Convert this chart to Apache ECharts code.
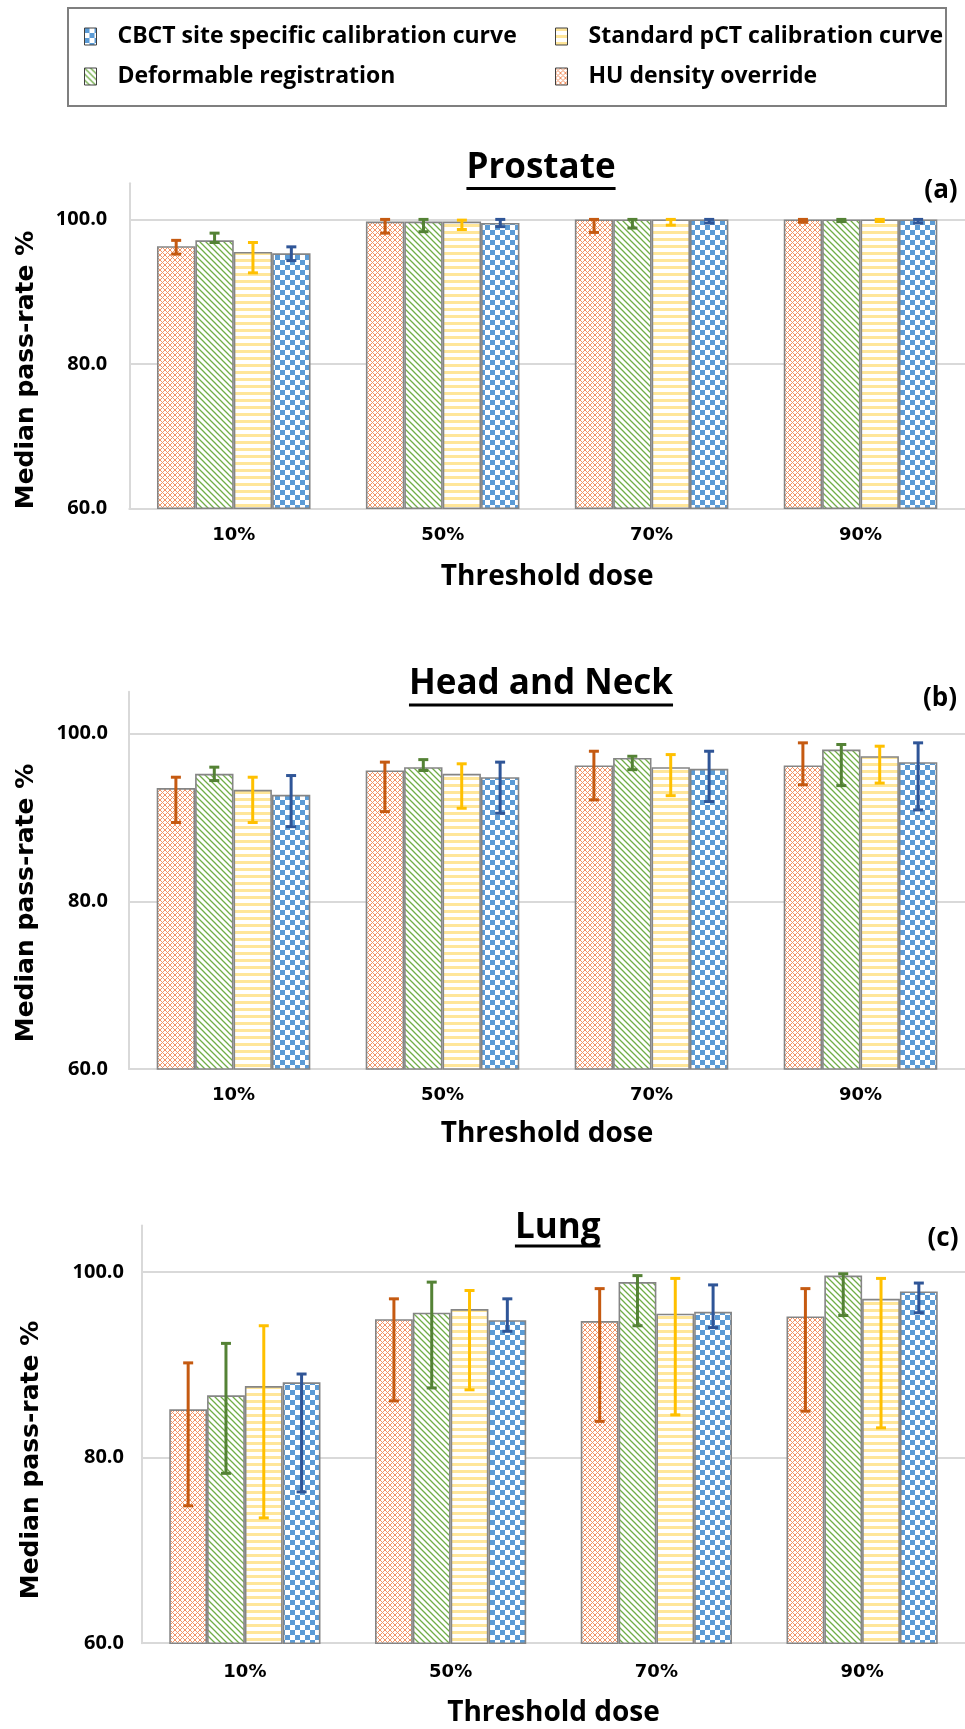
<!DOCTYPE html>
<html><head><meta charset="utf-8">
<script src="https://cdn.jsdelivr.net/npm/echarts@6/dist/echarts.min.js"></script>
<style>html,body{margin:0;padding:0;background:#fff}#c{width:965px;height:1729px}</style>
</head><body><div id="c"></div><script>
// ---------- data ----------
const categories = ['10%', '50%', '70%', '90%'];
const seriesNames = ['HU density override', 'Deformable registration', 'Standard pCT calibration curve', 'CBCT site specific calibration curve'];
const yMin = 60, yMax = 105, yInterval = 20;

// Prostate (a)
const prostateHU = [96.3, 99.7, 100.0, 100.0];
const prostateHULow = [95.2, 98.1, 98.2, 99.6];
const prostateHUHigh = [97.1, 100.0, 100.0, 100.0];
const prostateDef = [97.1, 99.7, 100.0, 100.0];
const prostateDefLow = [96.8, 98.3, 98.8, 99.7];
const prostateDefHigh = [98.1, 100.0, 100.0, 100.0];
const prostateStd = [95.5, 99.7, 100.0, 100.0];
const prostateStdLow = [92.6, 98.6, 99.2, 99.7];
const prostateStdHigh = [96.8, 99.9, 100.0, 100.0];
const prostateCBCT = [95.3, 99.5, 100.0, 100.0];
const prostateCBCTLow = [94.3, 99.0, 99.5, 99.5];
const prostateCBCTHigh = [96.2, 100.0, 100.0, 100.0];

// Head and Neck (b)
const hnHU = [93.5, 95.6, 96.2, 96.2];
const hnHULow = [89.4, 90.7, 92.1, 93.9];
const hnHUHigh = [94.8, 96.6, 97.9, 98.9];
const hnDef = [95.2, 96.0, 97.1, 98.1];
const hnDefLow = [94.4, 95.6, 95.7, 93.8];
const hnDefHigh = [96.0, 96.9, 97.3, 98.7];
const hnStd = [93.3, 95.2, 96.0, 97.3];
const hnStdLow = [89.4, 91.1, 92.6, 94.1];
const hnStdHigh = [94.8, 96.4, 97.5, 98.5];
const hnCBCT = [92.7, 94.8, 95.8, 96.6];
const hnCBCTLow = [88.9, 90.5, 91.9, 90.9];
const hnCBCTHigh = [95.0, 96.6, 97.9, 98.9];

// Lung (c)
const lungHU = [85.2, 94.9, 94.7, 95.2];
const lungHULow = [74.8, 86.1, 83.9, 85.0];
const lungHUHigh = [90.2, 97.1, 98.2, 98.2];
const lungDef = [86.7, 95.6, 98.9, 99.6];
const lungDefLow = [78.3, 87.5, 94.2, 95.3];
const lungDefHigh = [92.3, 98.9, 99.6, 99.8];
const lungStd = [87.7, 96.0, 95.5, 97.1];
const lungStdLow = [73.5, 87.3, 84.6, 83.2];
const lungStdHigh = [94.2, 98.0, 99.3, 99.3];
const lungCBCT = [88.1, 94.8, 95.7, 97.9];
const lungCBCTLow = [76.3, 93.6, 94.0, 95.6];
const lungCBCTHigh = [89.0, 97.1, 98.6, 98.8];

// ---------- layout / style ----------
const CAT_GAP = 0.265;
const panels = [
  { title: 'Prostate', tag: '(a)', values: [prostateHU, prostateDef, prostateStd, prostateCBCT],
    lows: [prostateHULow, prostateDefLow, prostateStdLow, prostateCBCTLow],
    highs: [prostateHUHigh, prostateDefHigh, prostateStdHigh, prostateCBCTHigh],
    grid: { left: 129.3, top: 183.3, width: 837.6, height: 325 },
    titlePos: [541, 168], underY: 188.5, tagPos: [941, 191], yTitlePos: [26, 370],
    yLabelMargin: 22, xLabelMargin: 18, nameGap: 55 },
  { title: 'Head and Neck', tag: '(b)', values: [hnHU, hnDef, hnStd, hnCBCT],
    lows: [hnHULow, hnDefLow, hnStdLow, hnCBCTLow],
    highs: [hnHUHigh, hnDefHigh, hnStdHigh, hnCBCTHigh],
    grid: { left: 129, top: 691.7, width: 841, height: 377.3 },
    titlePos: [541, 684.5], underY: 705, tagPos: [940, 699], yTitlePos: [26, 903],
    yLabelMargin: 21, xLabelMargin: 17, nameGap: 51 },
  { title: 'Lung', tag: '(c)', values: [lungHU, lungDef, lungStd, lungCBCT],
    lows: [lungHULow, lungDefLow, lungStdLow, lungCBCTLow],
    highs: [lungHUHigh, lungDefHigh, lungStdHigh, lungCBCTHigh],
    grid: { left: 142, top: 1225.5, width: 832, height: 417.7 },
    titlePos: [557.7, 1228], underY: 1246, tagPos: [943, 1239], yTitlePos: [31, 1460],
    yLabelMargin: 18, xLabelMargin: 20, nameGap: 56 }
];
const errColors = ['#C55A11', '#548235', '#FFC000', '#2F5597'];

function makeTile(w, h, draw) {
  const c = document.createElement('canvas');
  c.width = w; c.height = h;
  const g = c.getContext('2d');
  g.fillStyle = '#fff'; g.fillRect(0, 0, w, h);
  draw(g, w, h);
  return c;
}
const tiles = [
  makeTile(5, 5, (g) => { g.strokeStyle = '#F29466'; g.lineWidth = 1;
    g.beginPath(); g.moveTo(0, 0); g.lineTo(5, 5); g.moveTo(5, 0); g.lineTo(0, 5); g.stroke(); }),
  makeTile(6, 6, (g) => { g.strokeStyle = '#70AD47'; g.lineWidth = 1.3;
    g.beginPath(); g.moveTo(-1, -1); g.lineTo(7, 7); g.moveTo(-1, 5); g.lineTo(1, 7); g.moveTo(5, -1); g.lineTo(7, 1); g.stroke(); }),
  makeTile(7, 7, (g) => { g.fillStyle = '#FFE699'; g.fillRect(0, 0, 7, 3); }),
  makeTile(10, 10, (g) => { g.fillStyle = '#5B9BD5'; g.fillRect(0, 0, 5, 5); g.fillRect(5, 5, 5, 5); })
];

function makeErrRenderer(k, color) {
  return function (params, api) {
    const ci = api.value(0);
    const lo = api.value(1), hi = api.value(2);
    const band = api.size([1, 0])[0];
    const barW = band * (1 - CAT_GAP) / 4;
    const pLo = api.coord([ci, lo]);
    const pHi = api.coord([ci, hi]);
    const x = pLo[0] + (k - 1.5) * barW;
    const cap = 5;
    const st = { stroke: color, lineWidth: 3, fill: null };
    return { type: 'group', children: [
      { type: 'line', shape: { x1: x, y1: pLo[1], x2: x, y2: pHi[1] }, style: st },
      { type: 'line', shape: { x1: x - cap, y1: pLo[1], x2: x + cap, y2: pLo[1] }, style: st },
      { type: 'line', shape: { x1: x - cap, y1: pHi[1], x2: x + cap, y2: pHi[1] }, style: st }
    ] };
  };
}

const mctx = document.createElement('canvas').getContext('2d');
const TITLE_FONT = 'bold 35px "Open Sans"';
mctx.font = TITLE_FONT;

const grids = [], xAxes = [], yAxes = [], series = [], graphics = [];
graphics.push({ type: 'rect', shape: { x: 68, y: 8, width: 878, height: 98 },
  style: { fill: null, stroke: '#7f7f7f', lineWidth: 2 }, z: 1 });

panels.forEach((p, i) => {
  grids.push(Object.assign({ containLabel: false }, p.grid));
  xAxes.push({ gridIndex: i, type: 'category', data: categories,
    axisTick: { show: false },
    axisLine: { lineStyle: { color: '#d9d9d9', width: 2 } },
    axisLabel: { margin: p.xLabelMargin, fontFamily: 'DejaVu Sans', fontWeight: 'bold', fontSize: 18, color: '#000' },
    name: 'Threshold dose', nameLocation: 'middle', nameGap: p.nameGap,
    nameTextStyle: { fontFamily: 'Open Sans', fontWeight: 'bold', fontSize: 28, color: '#000' } });
  yAxes.push({ gridIndex: i, type: 'value', min: yMin, max: yMax, interval: yInterval,
    axisLine: { show: true, lineStyle: { color: '#d9d9d9', width: 2 } },
    axisTick: { show: false },
    splitLine: { show: true, showMaxLine: false, lineStyle: { color: '#d9d9d9', width: 2 } },
    axisLabel: { showMaxLabel: false, margin: p.yLabelMargin,
      formatter: (v) => (v > 100 ? '' : v.toFixed(1)),
      fontFamily: 'Open Sans', fontWeight: 'bold', fontSize: 20, color: '#000' } });
  for (let k = 0; k < 4; k++) {
    series.push({ type: 'bar', name: seriesNames[k], xAxisIndex: i, yAxisIndex: i,
      data: p.values[k], barGap: '0%', barCategoryGap: (CAT_GAP * 100) + '%',
      itemStyle: { color: { image: tiles[k], repeat: 'repeat' }, borderColor: '#858585', borderWidth: 1.6 },
      emphasis: { disabled: true }, z: 2 });
  }
  for (let k = 0; k < 4; k++) {
    series.push({ type: 'custom', xAxisIndex: i, yAxisIndex: i, silent: true, z: 5,
      data: categories.map((c, j) => [j, p.lows[k][j], p.highs[k][j]]),
      renderItem: makeErrRenderer(k, errColors[k]) });
  }
  const tw = mctx.measureText(p.title).width;
  graphics.push({ type: 'text', x: p.titlePos[0], y: p.titlePos[1],
    style: { text: p.title, font: TITLE_FONT, fill: '#000', textAlign: 'center', textVerticalAlign: 'middle', align: 'center', verticalAlign: 'middle' } });
  graphics.push({ type: 'line', shape: { x1: p.titlePos[0] - tw / 2, y1: p.underY, x2: p.titlePos[0] + tw / 2, y2: p.underY },
    style: { stroke: '#000', lineWidth: 3 } });
  graphics.push({ type: 'text', x: p.tagPos[0], y: p.tagPos[1],
    style: { text: p.tag, font: 'bold 26px "Open Sans"', fill: '#000', textAlign: 'center', textVerticalAlign: 'middle', align: 'center', verticalAlign: 'middle' } });
  graphics.push({ type: 'text', x: p.yTitlePos[0], y: p.yTitlePos[1], rotation: Math.PI / 2,
    style: { text: 'Median pass-rate %', font: 'bold 25px "DejaVu Sans"', fill: '#000', textAlign: 'center', textVerticalAlign: 'middle', align: 'center', verticalAlign: 'middle' } });
});

const legendCommon = { orient: 'vertical', padding: 0, itemWidth: 12, itemHeight: 17, itemGap: 17,
  icon: 'rect', selectedMode: false,
  itemStyle: { borderColor: '#404040', borderWidth: 1 },
  textStyle: { fontFamily: 'Open Sans', fontWeight: 'bold', fontSize: 23, color: '#000', padding: [0, 0, 0, 16] } };

const option = {
  animation: false,
  backgroundColor: '#fff',
  grid: grids, xAxis: xAxes, yAxis: yAxes, series: series,
  legend: [
    Object.assign({}, legendCommon, { left: 84, top: 25, data: [seriesNames[3], seriesNames[1]] }),
    Object.assign({}, legendCommon, { left: 555, top: 25, data: [seriesNames[2], seriesNames[0]] })
  ],
  graphic: graphics
};
const chart = echarts.init(document.getElementById('c'));
chart.setOption(option);
</script></body></html>
